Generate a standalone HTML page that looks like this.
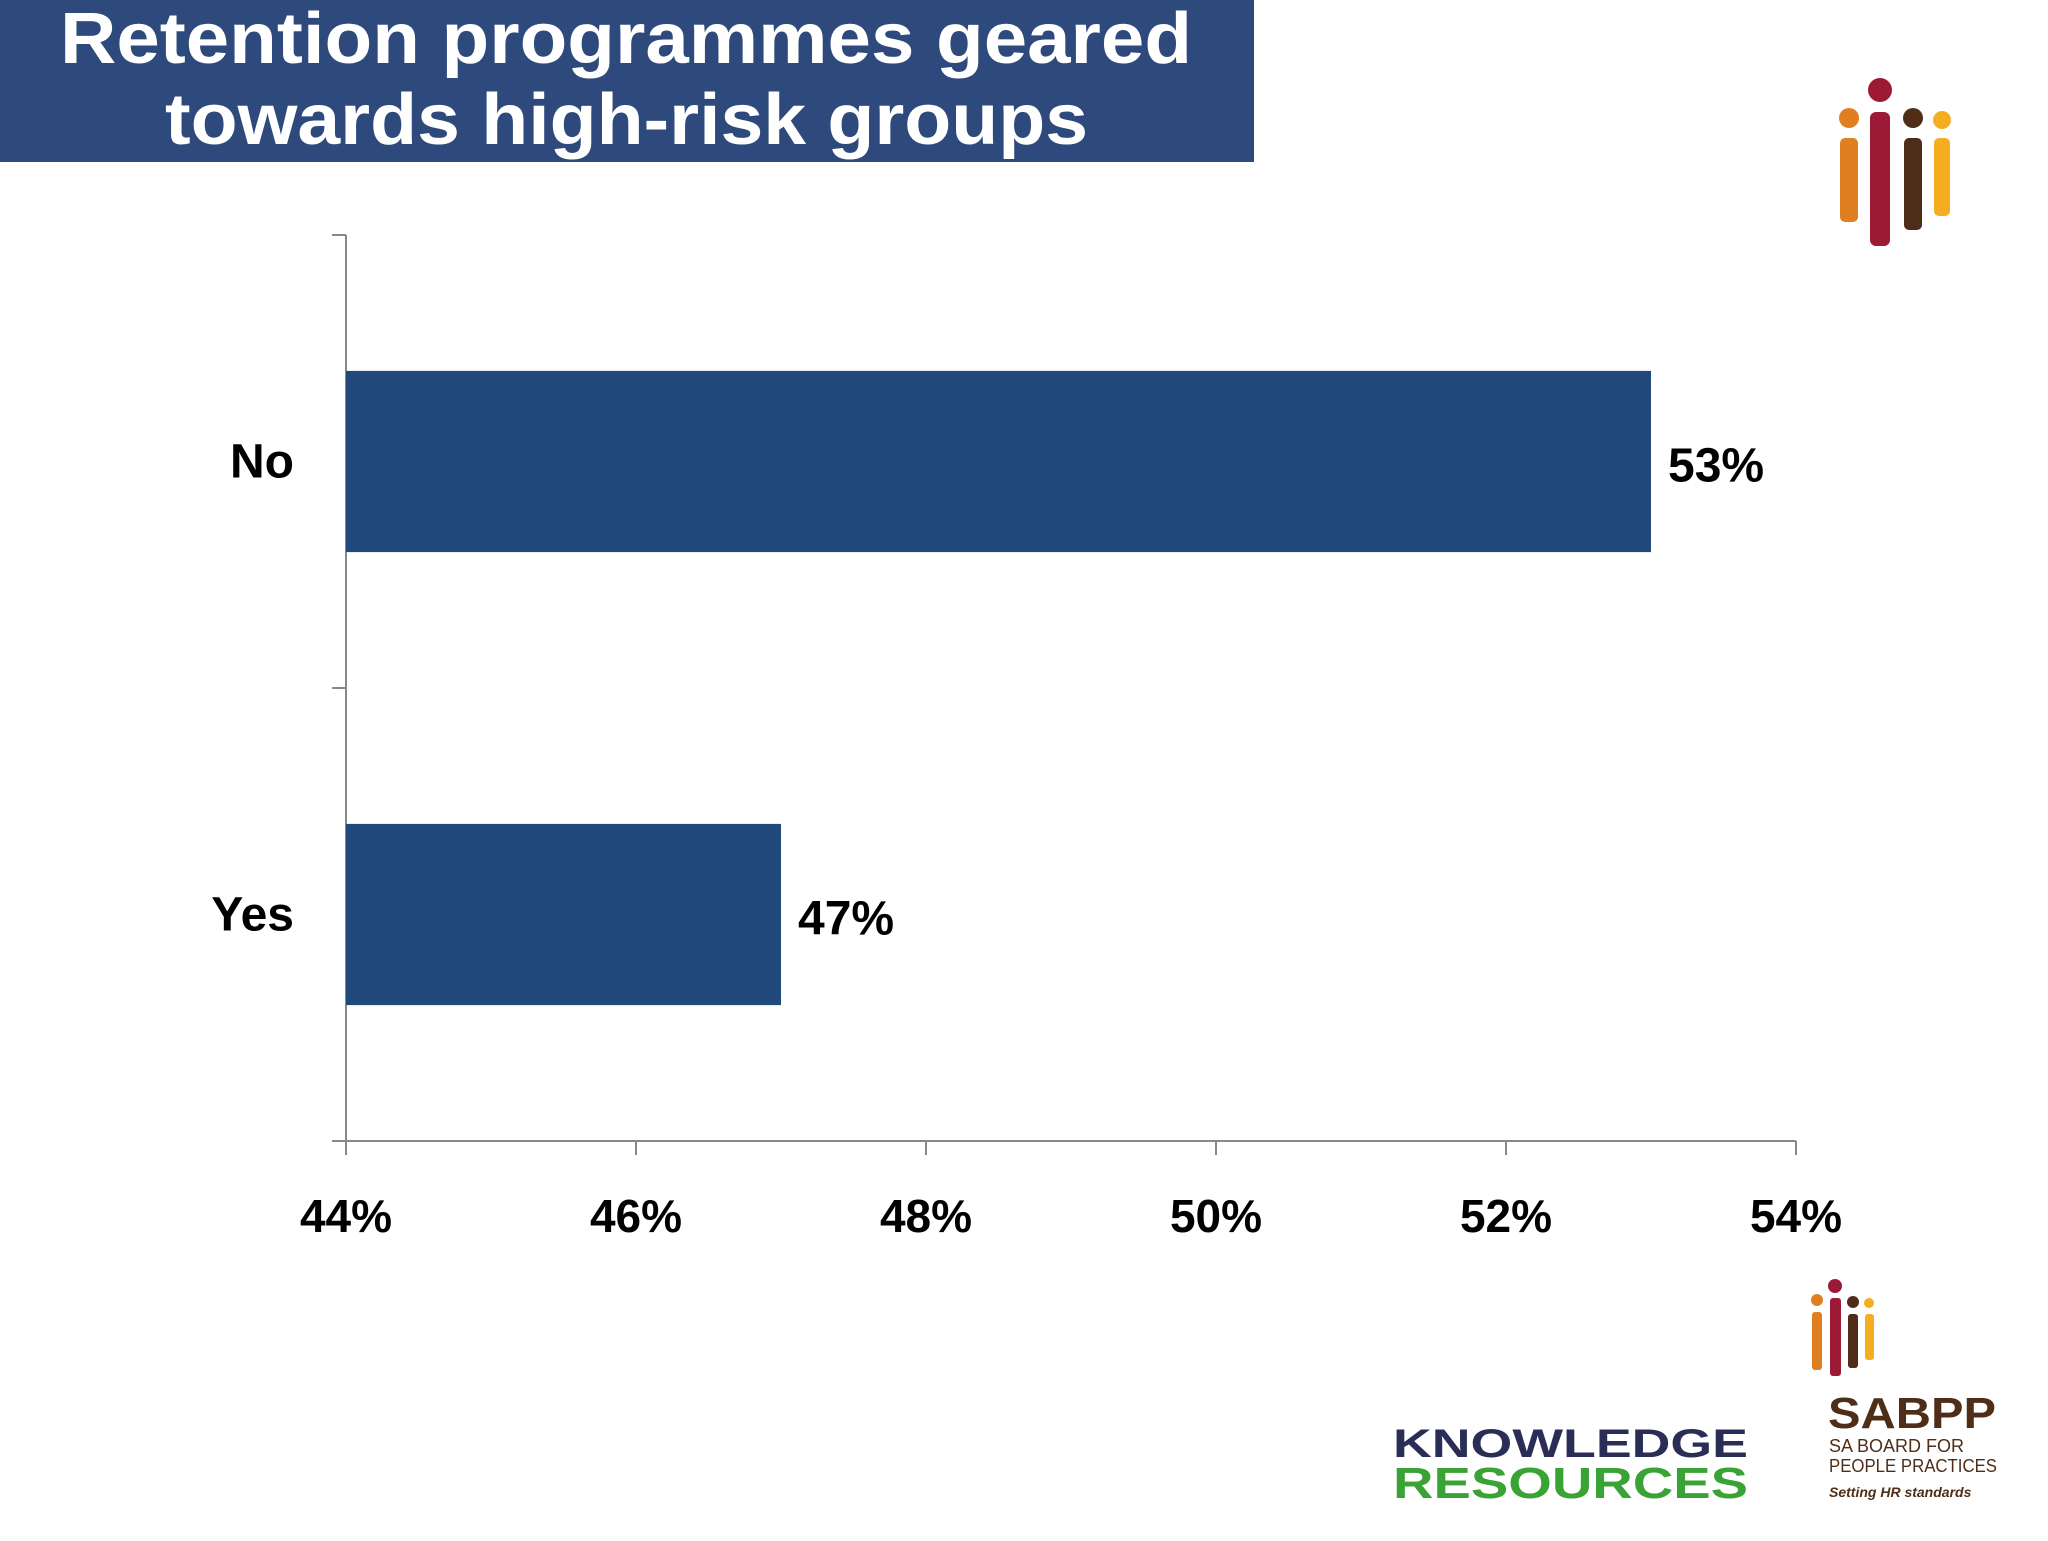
<!DOCTYPE html>
<html><head><meta charset="utf-8"><style>
body{margin:0;width:2048px;height:1536px;background:#fff;overflow:hidden;font-family:"Liberation Sans",sans-serif}
</style></head><body>
<svg width="2048" height="1536" xmlns="http://www.w3.org/2000/svg" id="svg">
<rect x="0" y="0" width="1254" height="162" fill="#2e4a7d"/>
<text x="60" y="63" font-size="72" font-weight="bold" fill="#fff" textLength="1132" lengthAdjust="spacingAndGlyphs">Retention programmes geared</text>
<text x="165" y="144" font-size="72" font-weight="bold" fill="#fff" textLength="923" lengthAdjust="spacingAndGlyphs">towards high-risk groups</text>
<g>
<rect x="1840" y="138" width="18" height="84" rx="5" fill="#e07f22"/><circle cx="1849" cy="118" r="10" fill="#e07f22"/>
<rect x="1870" y="112" width="20" height="134" rx="6" fill="#9c1a35"/><circle cx="1880" cy="90" r="12" fill="#9c1a35"/>
<rect x="1904" y="138" width="18" height="92" rx="5" fill="#4e2e18"/><circle cx="1913" cy="118" r="10" fill="#4e2e18"/>
<rect x="1934" y="138" width="16" height="78" rx="5" fill="#f5ae1f"/><circle cx="1942" cy="120" r="9" fill="#f5ae1f"/>
</g>
<g>
<rect x="1812" y="1312" width="10" height="58" rx="3" fill="#e07f22"/><circle cx="1817" cy="1300" r="6" fill="#e07f22"/>
<rect x="1830" y="1298" width="11" height="78" rx="3" fill="#9c1a35"/><circle cx="1835" cy="1286" r="7" fill="#9c1a35"/>
<rect x="1848" y="1314" width="10" height="54" rx="3" fill="#4e2e18"/><circle cx="1853" cy="1302" r="6" fill="#4e2e18"/>
<rect x="1865" y="1314" width="9" height="46" rx="3" fill="#f5ae1f"/><circle cx="1869" cy="1303" r="5" fill="#f5ae1f"/>
<text x="1828" y="1428" font-size="44" font-weight="bold" fill="#4e2e18" textLength="168" lengthAdjust="spacingAndGlyphs">SABPP</text>
<text x="1829" y="1452" font-size="18" fill="#4e2e18">SA BOARD FOR</text>
<text x="1829" y="1472" font-size="18" fill="#4e2e18" textLength="168" lengthAdjust="spacingAndGlyphs">PEOPLE PRACTICES</text>
<text x="1829" y="1497" font-size="14" font-style="italic" font-weight="bold" fill="#4e2e18">Setting HR standards</text>
</g>
<g>
<text x="1393" y="1457" font-size="40" font-weight="bold" fill="#2a2d55" textLength="355" lengthAdjust="spacingAndGlyphs">KNOWLEDGE</text>
<text x="1393" y="1498" font-size="44" font-weight="bold" fill="#3aa335" textLength="355" lengthAdjust="spacingAndGlyphs">RESOURCES</text>
</g>
<g id="plot"></g>
</svg>
<script>
const categories=["No","Yes"];
const values=[53,47];
const ticks=[44,46,48,50,52,54];
const tickLabels=["44%","46%","48%","50%","52%","54%"];
const X0=346,X1=1796,TOP=235,BOT=1141,xmin=44,xmax=54;
const xs=v=>X0+(v-xmin)/(xmax-xmin)*(X1-X0);
const band=(BOT-TOP)/categories.length;
const g=document.getElementById('plot');
const NS='http://www.w3.org/2000/svg';
function mk(t,a){const e=document.createElementNS(NS,t);for(const k in a)e.setAttribute(k,a[k]);g.appendChild(e);return e;}
let e=mk('line',{x1:X0,y1:TOP,x2:X0,y2:BOT,stroke:'#888','stroke-width':2});


e=mk('line',{x1:X0-14,y1:BOT,x2:X1,y2:BOT,stroke:'#888','stroke-width':2});


for(let i=0;i<=categories.length;i++){const y=TOP+i*band;
e=mk('line',{x1:X0-14,y1:y,x2:X0,y2:y,stroke:'#888','stroke-width':2});

}
ticks.forEach((t,i)=>{const x=xs(t);
e=mk('line',{x1:x,y1:BOT,x2:x,y2:BOT+14,stroke:'#888','stroke-width':2});


e=mk('text',{x:x,y:1232,'text-anchor':'middle','font-size':46,'font-weight':'bold',fill:'#000'});
e.textContent=tickLabels[i];

});
categories.forEach((c,i)=>{const yc=TOP+band*(i+0.5);const h=band*0.4;
e=mk('rect',{x:X0,y:yc-h/2,width:xs(values[i])-X0,height:h,fill:'#21497b'});


e=mk('text',{x:294,y:yc+16,'text-anchor':'end','font-size':48,'font-weight':'bold',fill:'#000'});
e.textContent=c;


e=mk('text',{x:xs(values[i])+17,y:yc+20,'font-size':48,'font-weight':'bold',fill:'#000'});
e.textContent=values[i]+'%';

});
</script>
</body></html>
